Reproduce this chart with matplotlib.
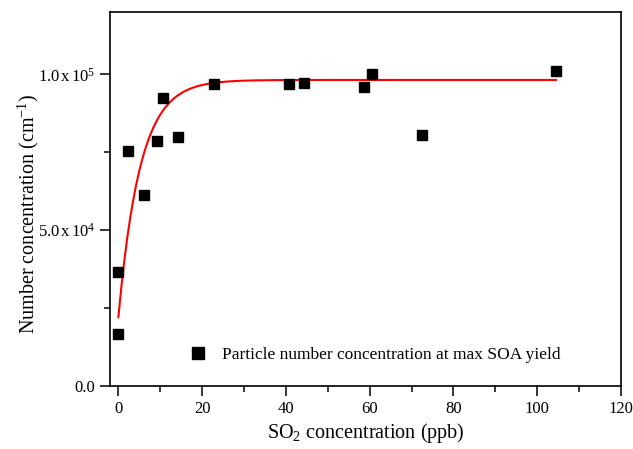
import numpy as np
import matplotlib.pyplot as plt
from matplotlib.ticker import FixedLocator, MultipleLocator

plt.rcParams['font.family'] = ['Liberation Serif', 'DejaVu Serif']
plt.rcParams['mathtext.fontset'] = 'custom'
plt.rcParams['mathtext.rm'] = 'Liberation Serif'
plt.rcParams['mathtext.it'] = 'Liberation Serif:italic'

# SO2 concentration (ppb) vs particle number concentration (cm-1)
so2_ppb = [0.0, 0.0, 2.2, 6.0, 9.1, 10.7, 14.3, 22.9, 40.8, 44.4, 58.7, 60.6, 72.6, 104.5]
number_conc = [16600, 36700, 75400, 61300, 78600, 92300, 79900, 96800,
               96800, 97100, 95800, 100000, 80500, 101000]

# exponential-rise fit (y = y_max - (y_max - y_start) * exp(-x / t))
fit_y_start = 22100
fit_y_max = 98200
fit_t = 5.2
fit_x_end = 104.5

y_ticks = [0, 50000, 100000]
y_tick_labels = ['0.0', r'5.0$\,$x$\,$10$^{4}$', r'1.0$\,$x$\,$10$^{5}$']

fig = plt.figure(figsize=(6.33, 4.49), dpi=100)
ax = fig.add_axes([0.1738, 0.1403, 0.8072, 0.833])

ax.plot(so2_ppb, number_conc, 's', color='black', markersize=7.6,
        label='Particle number concentration at max SOA yield', zorder=3)

xf = np.linspace(0, fit_x_end, 300)
yf = fit_y_max - (fit_y_max - fit_y_start) * np.exp(-xf / fit_t)
ax.plot(xf, yf, color='red', linewidth=1.5, zorder=2)

ax.set_xlim(-2, 120)
ax.set_ylim(0, 120000)
ax.xaxis.set_major_locator(MultipleLocator(20))
ax.xaxis.set_minor_locator(MultipleLocator(10))
ax.yaxis.set_major_locator(FixedLocator(y_ticks))
ax.yaxis.set_minor_locator(FixedLocator([25000, 75000]))
ax.set_yticklabels(y_tick_labels)

ax.tick_params(which='major', direction='out', length=7, width=1.1, labelsize=12,
               top=False, right=False)
ax.tick_params(which='minor', direction='out', length=4, width=1.1,
               top=False, right=False)
for s in ax.spines.values():
    s.set_linewidth(1.2)

ax.set_xlabel(r'SO$_{2}$ concentration (ppb)', fontsize=14.5, labelpad=3)
ax.set_ylabel(r'Number concentration (cm$^{-1}$)', fontsize=14.5)
ax.yaxis.set_label_coords(-0.135, 0.46)

ax.legend(loc='lower left', bbox_to_anchor=(0.125, 0.02), frameon=False,
          fontsize=12.5, handlelength=1.0, handletextpad=0.9, markerscale=1.05)

plt.savefig('out.png', dpi=100)
